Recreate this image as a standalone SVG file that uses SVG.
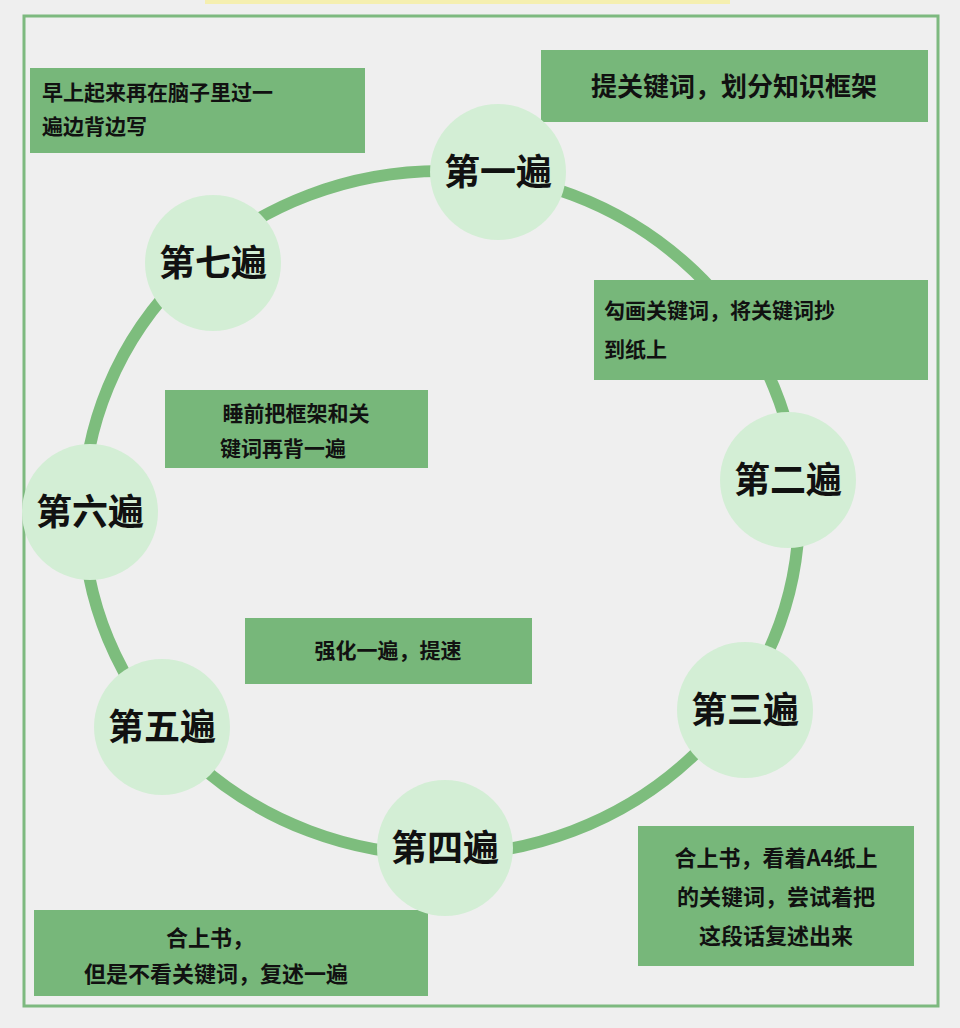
<svg xmlns="http://www.w3.org/2000/svg" width="960" height="1028" viewBox="0 0 960 1028">
<style>
.b{fill:#77b77a}
.c{fill:#d3eed5}
.t{font-family:"Noto Sans CJK SC",sans-serif;font-weight:bold;fill:#111}
.n{font-size:36px;text-anchor:middle}
.s{font-size:21px}
.m{text-anchor:middle}
</style>
<rect width="960" height="1028" fill="#efefef"/>
<rect x="205" y="0" width="525" height="4" fill="#f5efb0"/>
<rect x="24" y="16" width="914" height="990" fill="none" stroke="#7db97f" stroke-width="3"/>
<g id="connectors"><ellipse cx="441" cy="513" rx="358" ry="342" fill="none" stroke="#7dbd7d" stroke-width="12"/></g>
<g id="box1"><rect class="b" x="30" y="68" width="335" height="85"/><text class="t s" x="42" y="100">早上起来再在脑子里过一</text><text class="t s" x="42" y="134">遍边背边写</text></g>
<g id="box2"><rect class="b" x="541" y="50" width="387" height="72"/><text class="t" font-size="26" x="734" y="96" text-anchor="middle">提关键词，划分知识框架</text></g>
<g id="box3"><rect class="b" x="594" y="280" width="334" height="100"/><text class="t s" x="604" y="318">勾画关键词，将关键词抄</text><text class="t s" x="604" y="357">到纸上</text></g>
<g id="box4"><rect class="b" x="165" y="390" width="263" height="78"/><text class="t s m" x="296" y="421">睡前把框架和关</text><text class="t s m" x="283" y="456">键词再背一遍</text></g>
<g id="box5"><rect class="b" x="245" y="618" width="287" height="66"/><text class="t s m" x="388" y="658">强化一遍，提速</text></g>
<g id="box6"><rect class="b" x="638" y="826" width="276" height="140"/><text class="t m" font-size="22" x="776" y="866">合上书，看着A4纸上</text><text class="t m" font-size="22" x="776" y="905">的关键词，尝试着把</text><text class="t m" font-size="22" x="776" y="944">这段话复述出来</text></g>
<g id="box7"><rect class="b" x="34" y="910" width="394" height="86"/><text class="t m" font-size="22" x="210" y="946">合上书，</text><text class="t m" font-size="22" x="216" y="982">但是不看关键词，复述一遍</text></g>
<g id="n1"><circle class="c" cx="498" cy="172" r="68"/><text class="t n" x="498" y="185">第一遍</text></g>
<g id="n2"><circle class="c" cx="788" cy="480" r="68"/><text class="t n" x="788" y="493">第二遍</text></g>
<g id="n3"><circle class="c" cx="745" cy="710" r="68"/><text class="t n" x="745" y="723">第三遍</text></g>
<g id="n4"><circle class="c" cx="445" cy="848" r="68"/><text class="t n" x="445" y="861">第四遍</text></g>
<g id="n5"><circle class="c" cx="162" cy="727" r="68"/><text class="t n" x="162" y="740">第五遍</text></g>
<g id="n6"><circle class="c" cx="90" cy="512" r="68"/><text class="t n" x="90" y="525">第六遍</text></g>
<g id="n7"><circle class="c" cx="213" cy="263" r="68"/><text class="t n" x="213" y="276">第七遍</text></g>
</svg>
